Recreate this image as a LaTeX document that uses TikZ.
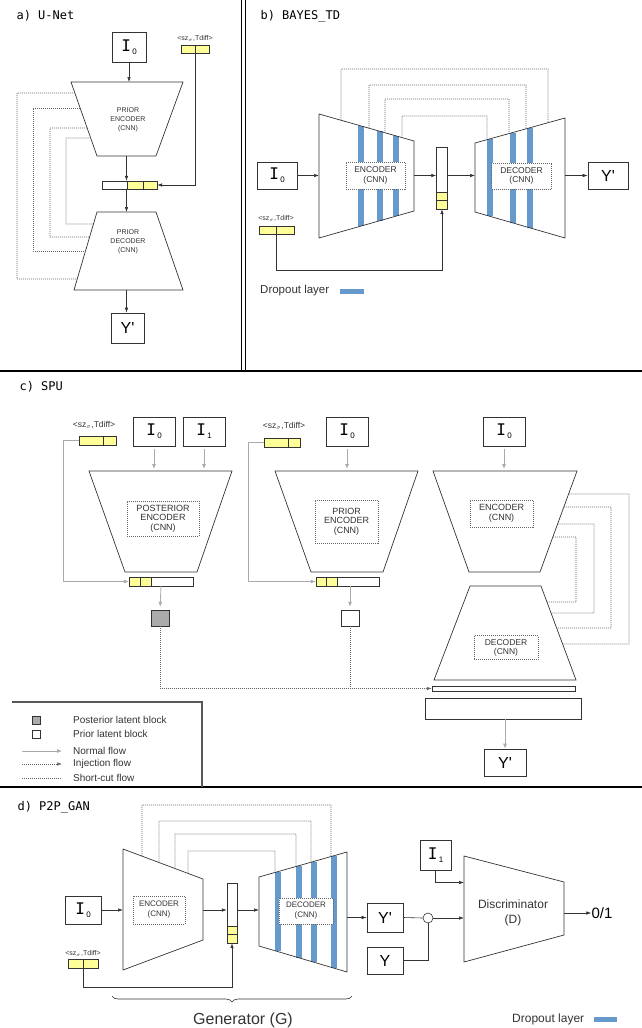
\documentclass[tikz,border=0pt]{standalone}
\usepackage{fontspec}
\setmainfont{Liberation Sans}
\setmonofont{DejaVu Sans Mono}
\usepackage{xcolor}
\usepackage{tikz}
\usetikzlibrary{arrows.meta,calc,decorations.pathreplacing}

\definecolor{latyellow}{HTML}{FFFF99}
\definecolor{dropblue}{HTML}{6699CC}
\definecolor{linegray}{HTML}{333333}
\definecolor{flowgray}{HTML}{AAAAAA}

\newcommand{\Isub}[1]{{\ttfamily I}\raisebox{-3pt}{\fontsize{8}{8}\selectfont\,#1}}
\newcommand{\Yp}{Y\textquotesingle}
\newcommand{\szlab}{<sz$_\sigma$,Tdiff>}

\begin{document}
\begin{tikzpicture}[x=1pt,y=-1pt,
    conn/.style={draw=linegray, line width=0.6pt},
    arr/.style={conn, -{Latex[length=5pt,width=3.5pt]}},
    garr/.style={draw=flowgray, line width=0.8pt, -{Latex[length=5pt,width=4pt]}},
    shortcut/.style={draw=black!60, dash pattern=on 1pt off 1pt, line width=0.6pt},
    inject/.style={shortcut, -{Latex[length=5pt,width=3.5pt]}},
    trap/.style={draw=linegray, line width=0.7pt},
    imgbox/.style={draw=linegray, line width=0.7pt, fill=white, inner sep=0pt, font=\fontsize{16}{16}\selectfont},
    cnnbox/.style={draw=black!60, dash pattern=on 1pt off 1pt, fill=white, align=center, inner sep=0pt, text=linegray},
    blocktxt/.style={align=center, inner sep=0pt, text=linegray},
    latcell/.style={draw=linegray, fill=white, inner sep=0pt},
    ycell/.style={draw=linegray, fill=latyellow, inner sep=0pt},
    drop/.style={draw=dropblue, line width=6pt},
    dropkey/.style={draw=dropblue, line width=5pt},
    paneltitle/.style={anchor=west, font=\ttfamily\fontsize{12}{12}\selectfont},
    szlabel/.style={inner sep=0pt, text=linegray, font=\fontsize{7}{7}\selectfont},
    frame/.style={draw=black, line width=1.5pt}]
\useasboundingbox (0,0) rectangle (642,1028);

\draw[frame] (241.5,0) -- (241.5,371);
\draw[frame] (245.5,0) -- (245.5,371);
\draw[frame] (0,371) -- (642,371);
\draw[frame] (0,787) -- (642,787);
\draw[frame, draw=black!65] (12,702) -- (202,702) -- (202,787);

% a) U-Net
\node[paneltitle] (ta) at (13,16) {a) U-Net};
\node[imgbox, minimum width=34pt, minimum height=30pt] (a-in) at (129,47) {\Isub{0}};
\coordinate (a-etl) at (71,82); \coordinate (a-etr) at (183,82);
\coordinate (a-ebr) at (156,156); \coordinate (a-ebl) at (97,156);
\coordinate (a-dtl) at (97,212); \coordinate (a-dtr) at (156,212);
\coordinate (a-dbr) at (183,290); \coordinate (a-dbl) at (74,290);
\coordinate (a-eo) at ($(a-ebl)!.5!(a-ebr)$);
\draw[trap] (a-etl) -- (a-etr) -- (a-ebr) -- (a-ebl) -- cycle;
\draw[trap] (a-dtl) -- (a-dtr) -- (a-dbr) -- (a-dbl) -- cycle;
\node[blocktxt, font=\fontsize{7}{9}\selectfont] (a-enc) at (128,120) {PRIOR\\ENCODER\\(CNN)};
\node[blocktxt, font=\fontsize{7}{9}\selectfont] (a-dec) at (128,242) {PRIOR\\DECODER\\(CNN)};
\node[latcell, minimum width=55pt, minimum height=8pt] (a-lat) at (129.5,185) {};
\draw[ycell] (127,181) rectangle (143,189);
\draw[ycell] (143,181) rectangle (157,189);
\node[imgbox, minimum width=33pt, minimum height=30pt] (a-out) at (127.5,328) {\Yp};
\node[szlabel] (a-szl) at (195,38) {\szlab};
\node[ycell, minimum width=28pt, minimum height=8pt] (a-sz) at (195,49) {};
\draw[conn] (a-sz.north) -- (a-sz.south);
\draw[arr] (a-in.south) -- (a-in.south |- a-etl);
\draw[arr] (a-eo) -- (a-eo |- a-lat.north);
\draw[arr] (a-eo |- a-lat.south) -- (a-eo |- a-dtl);
\draw[arr] (a-eo |- a-dbl) -- (a-eo |- a-out.north);
\draw[arr] (a-sz.south) |- (a-lat.east);
\foreach \ya/\xo/\yb in {93/17/279, 108/33/251, 128/50/237, 138/66/224}
  \draw[shortcut] ($(a-etl)!{(\ya-82)/74}!(a-ebl)$) -| (\xo,\yb) -- ($(a-dtl)!{(\yb-212)/78}!(a-dbl)$);

% b) BAYES_TD
\node[paneltitle] (tb) at (257,16) {b) BAYES\_TD};
\node[imgbox, minimum width=40pt, minimum height=27pt] (b-in) at (277,175.5) {\Isub{0}};
\coordinate (b-etl) at (319,114); \coordinate (b-etr) at (414,141);
\coordinate (b-ebr) at (414,211); \coordinate (b-ebl) at (319,238);
\coordinate (b-dtl) at (475,143); \coordinate (b-dtr) at (565,118);
\coordinate (b-dbr) at (565,238); \coordinate (b-dbl) at (475,212);
\foreach \x in {361,380,395.5}
  \draw[drop] ($(b-etl)!{(\x-319)/95}!(b-etr)$) -- ($(b-ebl)!{(\x-319)/95}!(b-ebr)$);
\foreach \x in {490,512.5,529.5}
  \draw[drop] ($(b-dtl)!{(\x-475)/90}!(b-dtr)$) -- ($(b-dbl)!{(\x-475)/90}!(b-dbr)$);
\draw[trap] (b-etl) -- (b-etr) -- (b-ebr) -- (b-ebl) -- cycle;
\draw[trap] (b-dtl) -- (b-dtr) -- (b-dbr) -- (b-dbl) -- cycle;
\node[cnnbox, minimum width=59pt, minimum height=27pt, font=\fontsize{8.5}{9.5}\selectfont] (b-enc) at (375.5,175.5) {ENCODER\\(CNN)};
\node[cnnbox, minimum width=60pt, minimum height=26pt, font=\fontsize{8.5}{9.5}\selectfont] (b-dec) at (521.5,176) {DECODER\\(CNN)};
\node[latcell, minimum width=11pt, minimum height=62pt] (b-lat) at (442,178) {};
\draw[ycell] (436.5,192) rectangle (447.5,200.5);
\draw[ycell] (436.5,200.5) rectangle (447.5,209);
\node[imgbox, minimum width=40pt, minimum height=27pt] (b-out) at (608,175.5) {\Yp};
\node[szlabel] (b-szl) at (276,218) {\szlab};
\node[ycell, minimum width=35pt, minimum height=8pt] (b-sz) at (276.5,230) {};
\draw[conn] (b-sz.north) -- (b-sz.south);
\draw[arr] (b-in.east) -- (b-in.east -| b-etl);
\draw[arr] (b-in.east -| b-etr) -- (b-in.east -| b-lat.west);
\draw[arr] (b-in.east -| b-lat.east) -- (b-in.east -| b-dtl);
\draw[arr] (b-in.east -| b-dtr) -- (b-out.west);
\draw[arr] (b-sz.south) -- ++(0,36) -| (b-lat.south);
\foreach \xa/\yt/\xb in {341/69/548, 369/85/526, 385/99/509, 402/116/487}
  \draw[shortcut] ($(b-etl)!{(\xa-319)/95}!(b-etr)$) |- (\xb,\yt) -- ($(b-dtl)!{(\xb-475)/90}!(b-dtr)$);
\node[anchor=west, inner sep=0pt, text=linegray, font=\fontsize{11.5}{12}\selectfont] (b-leg) at (260,291) {Dropout layer};
\draw[dropkey] ([xshift=11pt]b-leg.east) -- ++(24,0);

% c) SPU
\node[paneltitle] (tc) at (16,387) {c) SPU};
\node[szlabel, font=\fontsize{8.5}{8.5}\selectfont] (c-szl1) at (94,425) {\szlab};
\node[ycell, minimum width=37pt, minimum height=9pt] (c-sz1) at (97.5,440.5) {};
\draw[conn] ([xshift=24pt]c-sz1.north west) -- ([xshift=24pt]c-sz1.south west);
\node[imgbox, minimum width=42pt, minimum height=29pt] (c-in1) at (154,431.5) {\Isub{0}};
\node[imgbox, minimum width=42pt, minimum height=29pt] (c-in2) at (204,431.5) {\Isub{1}};
\coordinate (c-p-tl) at (89,471); \coordinate (c-p-tr) at (232,471);
\coordinate (c-p-br) at (197,572); \coordinate (c-p-bl) at (125,572);
\draw[trap] (c-p-tl) -- (c-p-tr) -- (c-p-br) -- (c-p-bl) -- cycle;
\node[cnnbox, minimum width=72pt, minimum height=35pt, font=\fontsize{9}{9.5}\selectfont] (c-pos) at (163,518.5) {POSTERIOR\\ENCODER\\(CNN)};
\node[latcell, minimum width=64pt, minimum height=9pt] (c-lat1) at (161,581.5) {};
\draw[ycell] (129,577) rectangle (140,586);
\draw[ycell] (140,577) rectangle (151,586);
\node[draw=linegray, fill=black!33, minimum width=18pt, minimum height=16pt, inner sep=0pt] (c-q) at (160,618) {};
\draw[garr, shorten <=3pt, shorten >=2pt] (c-in1.south) -- (c-in1.south |- c-p-tl);
\draw[garr, shorten <=3pt, shorten >=2pt] (c-in2.south) -- (c-in2.south |- c-p-tl);
\draw[garr] (c-sz1.west) -- ++(-15,0) |- (c-lat1.west);
\draw[garr, shorten >=3pt] (c-lat1.south) -- (c-q.north);

\node[szlabel, font=\fontsize{8.5}{8.5}\selectfont] (c-szl2) at (284,426) {\szlab};
\node[ycell, minimum width=36pt, minimum height=9pt] (c-sz2) at (282,442.5) {};
\draw[conn] ([xshift=24pt]c-sz2.north west) -- ([xshift=24pt]c-sz2.south west);
\node[imgbox, minimum width=42pt, minimum height=29pt] (c-in3) at (347,431.5) {\Isub{0}};
\coordinate (c-r-tl) at (275,471); \coordinate (c-r-tr) at (418,471);
\coordinate (c-r-br) at (383,572); \coordinate (c-r-bl) at (311,572);
\draw[trap] (c-r-tl) -- (c-r-tr) -- (c-r-br) -- (c-r-bl) -- cycle;
\node[cnnbox, minimum width=63pt, minimum height=43pt, font=\fontsize{9}{9.5}\selectfont] (c-pri) at (346.5,521.5) {PRIOR\\ENCODER\\(CNN)};
\node[latcell, minimum width=63pt, minimum height=9pt] (c-lat2) at (347.5,581.5) {};
\draw[ycell] (316,577) rectangle (326.5,586);
\draw[ycell] (326.5,577) rectangle (337,586);
\node[draw=linegray, fill=white, minimum width=18pt, minimum height=16pt, inner sep=0pt] (c-p) at (350,618) {};
\draw[garr, shorten <=3pt, shorten >=2pt] (c-in3.south) -- (c-in3.south |- c-r-tl);
\draw[garr] (c-sz2.west) -- ++(-15,0) |- (c-lat2.west);
\draw[garr, shorten >=3pt] (c-lat2.south -| c-p) -- (c-p.north);

\node[imgbox, minimum width=42pt, minimum height=29pt] (c-in4) at (504,431.5) {\Isub{0}};
\coordinate (c-e-tl) at (433,471); \coordinate (c-e-tr) at (577,471);
\coordinate (c-e-br) at (540,572); \coordinate (c-e-bl) at (469,572);
\coordinate (c-d-tl) at (470,586); \coordinate (c-d-tr) at (541,586);
\coordinate (c-d-br) at (576,680); \coordinate (c-d-bl) at (434,680);
\draw[trap] (c-e-tl) -- (c-e-tr) -- (c-e-br) -- (c-e-bl) -- cycle;
\draw[trap] (c-d-tl) -- (c-d-tr) -- (c-d-br) -- (c-d-bl) -- cycle;
\node[cnnbox, minimum width=63pt, minimum height=27pt, font=\fontsize{9}{9.5}\selectfont] (c-enc) at (501.5,513.5) {ENCODER\\(CNN)};
\node[cnnbox, minimum width=64pt, minimum height=24pt, font=\fontsize{8.5}{9}\selectfont] (c-dec) at (506,647.5) {DECODER\\(CNN)};
\node[latcell, minimum width=143pt, minimum height=5pt] (c-fin) at (503.5,688.5) {};
\node[latcell, minimum width=156pt, minimum height=21pt] (c-head) at (503,708.5) {};
\node[imgbox, minimum width=42pt, minimum height=27pt] (c-out) at (505,762.5) {\Yp};
\draw[garr, shorten <=3pt, shorten >=2pt] (c-in4.south) -- (c-in4.south |- c-e-tl);
\draw[garr] (c-head.south -| c-out) -- (c-out.north);
\foreach \ya/\xo/\yb in {494/629/644, 507/611/628, 524/594/613, 537/576/602}
  \draw[shortcut] ($(c-e-tr)!{(\ya-471)/101}!(c-e-br)$) -| (\xo,\yb) -- ($(c-d-tr)!{(\yb-586)/94}!(c-d-br)$);
\draw[inject] (c-q.south) |- (c-fin.west);
\draw[shortcut] (c-p.south) -- (c-p.south |- c-fin.west);

\node[draw=linegray, fill=black!33, minimum size=8pt, inner sep=0pt] (leg-q) at (36,720) {};
\node[draw=linegray, fill=white, minimum size=8pt, inner sep=0pt] (leg-p) at (36,734) {};
\coordinate (leg-n) at (22,751); \coordinate (leg-i) at (22,764); \coordinate (leg-s) at (22,778);
\draw[garr] (leg-n) -- ++(40,0);
\draw[inject] (leg-i) -- ++(40,0);
\draw[shortcut] (leg-s) -- ++(40,0);
\foreach \n/\t in {leg-q/Posterior latent block, leg-p/Prior latent block, leg-n/Normal flow, leg-i/Injection flow, leg-s/Short-cut flow}
  \node[anchor=west, inner sep=0pt, text=linegray, font=\fontsize{10}{10}\selectfont] at (73,0 |- \n) {\t};

% d) P2P_GAN
\node[paneltitle] (td) at (14,807) {d) P2P\_GAN};
\node[imgbox, minimum width=36pt, minimum height=28pt] (d-in) at (83,910) {\Isub{0}};
\coordinate (d-etl) at (123,849); \coordinate (d-etr) at (203,879);
\coordinate (d-ebr) at (203,940); \coordinate (d-ebl) at (123,970);
\coordinate (d-dtl) at (259,877); \coordinate (d-dtr) at (347,852);
\coordinate (d-dbr) at (347,972); \coordinate (d-dbl) at (259,946);
\foreach \x in {277.5,298.5,313.5,334}
  \draw[drop] ($(d-dtl)!{(\x-259)/88}!(d-dtr)$) -- ($(d-dbl)!{(\x-259)/88}!(d-dbr)$);
\draw[trap] (d-etl) -- (d-etr) -- (d-ebr) -- (d-ebl) -- cycle;
\draw[trap] (d-dtl) -- (d-dtr) -- (d-dbr) -- (d-dbl) -- cycle;
\node[cnnbox, minimum width=52pt, minimum height=28pt, font=\fontsize{8}{10}\selectfont] (d-enc) at (159,910) {ENCODER\\(CNN)};
\node[cnnbox, minimum width=54pt, minimum height=26pt, font=\fontsize{8}{10}\selectfont] (d-dec) at (306,911) {DECODER\\(CNN)};
\node[latcell, minimum width=10pt, minimum height=60pt] (d-lat) at (232,913) {};
\draw[ycell] (227,926) rectangle (237,934.5);
\draw[ycell] (227,934.5) rectangle (237,943);
\node[szlabel] (d-szl) at (83,953) {\szlab};
\node[ycell, minimum width=30pt, minimum height=9pt] (d-sz) at (83,963.5) {};
\draw[conn] (d-sz.north) -- (d-sz.south);
\node[imgbox, minimum width=36pt, minimum height=29pt] (d-out) at (385,917.5) {\Yp};
\node[imgbox, minimum width=36pt, minimum height=27pt] (d-gt) at (385,960.5) {Y};
\node[imgbox, minimum width=31pt, minimum height=30pt] (d-in1) at (435.5,855) {\Isub{1}};
\node[circle, draw=linegray, line width=0.6pt, fill=white, minimum size=10pt, inner sep=0pt] (d-mix) at (428,918) {};
\coordinate (d-ctl) at (464,856); \coordinate (d-ctr) at (564,882);
\coordinate (d-cbr) at (564,935); \coordinate (d-cbl) at (464,962);
\draw[trap] (d-ctl) -- (d-ctr) -- (d-cbr) -- (d-cbl) -- cycle;
\node[blocktxt, font=\fontsize{12}{15}\selectfont] (d-disc) at (513,913) {Discriminator\\(D)};
\node[inner sep=0pt, font=\fontsize{15}{15}\selectfont] (d-res) at (602,913) {0/1};
\draw[arr] (d-in.east) -- (d-in.east -| d-etl);
\draw[arr] (d-in.east -| d-etr) -- (d-in.east -| d-lat.west);
\draw[arr] (d-in.east -| d-lat.east) -- (d-in.east -| d-dtl);
\draw[arr] (d-out.west -| d-dtr) -- (d-out.west);
\draw[arr] (d-sz.south) -- ++(0,19) -| (d-lat.south);
\draw[conn] (d-out.east) -- (d-mix.west);
\draw[arr] (d-mix.east) -- (d-mix -| d-ctl);
\draw[conn] (d-gt.east) -| (d-mix.south);
\draw[arr] (d-in1.south) |- ($(d-ctl)!.25!(d-cbl)$);
\draw[arr] (d-disc -| d-ctr) -- (d-res.west);
\foreach \xa/\yt/\xb in {142/805/331, 159/821/311, 175/834/296, 188/851/275}
  \draw[shortcut] ($(d-etl)!{(\xa-123)/80}!(d-etr)$) |- (\xb,\yt) -- ($(d-dtl)!{(\xb-259)/88}!(d-dtr)$);
\draw[conn, decorate, decoration={brace, amplitude=6pt}] (352,996) -- (112,996);
\node[font=\fontsize{16}{16}\selectfont, text=linegray] (d-gen) at (243,1020) {Generator (G)};
\node[anchor=west, inner sep=0pt, text=linegray, font=\fontsize{12}{12}\selectfont] (d-leg) at (512,1019) {Dropout layer};
\draw[dropkey] ([xshift=10pt]d-leg.east) -- ++(23,0);
\end{tikzpicture}
\end{document}
